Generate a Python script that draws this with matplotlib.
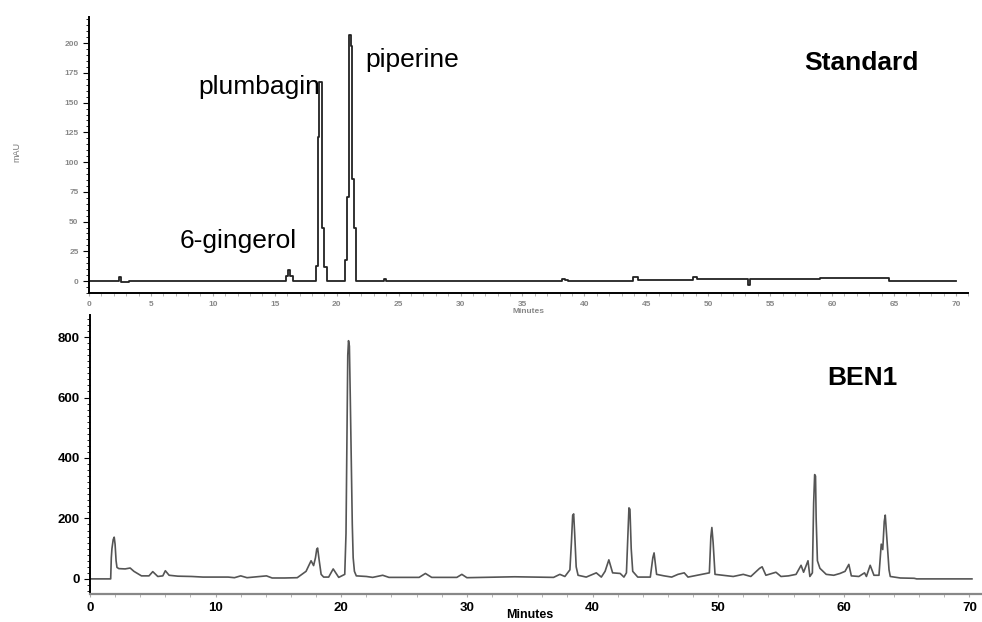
import numpy as np
import matplotlib.pyplot as plt
from matplotlib.ticker import MultipleLocator

plt.rcParams['font.family'] = ['Liberation Sans', 'DejaVu Sans']

# Standard mix chromatogram (minutes, mAU)
std_time = [0.0, 2.3, 2.45, 2.6, 2.9, 3.2, 15.7, 15.9, 16.05, 16.25, 16.45,
            18.32, 18.46, 18.6, 18.83, 18.97, 19.2,
            20.71, 20.87, 21.03, 21.14, 21.22, 21.39, 21.6,
            23.6, 23.8, 24.0, 38.0, 38.2, 38.4, 38.7,
            43.7, 43.9, 44.3, 48.6, 48.8, 49.1, 53.0, 53.2, 53.4,
            59.0, 64.2, 64.6, 70.0]
std_mau = [0.0, 0.0, 3.0, -1.0, -1.0, 0.0, 0.0, 4.0, 9.0, 4.0, 0.0,
           13.0, 121.0, 167.0, 45.0, 12.0, 0.0,
           18.0, 71.0, 207.0, 198.0, 86.0, 45.0, 0.0,
           0.0, 1.5, 0.0, 0.0, 1.5, 0.5, 0.0,
           0.0, 3.0, 1.0, 1.0, 3.0, 1.5, 1.5, -3.5, 1.5,
           2.5, 2.5, 0.0, 0.0]

# BEN1 sample chromatogram (minutes, mAU)
ben_time = [0.0, 1.65, 1.7, 1.75, 1.85, 1.93, 2.0, 2.08, 2.15, 2.3, 2.8, 3.2, 3.5, 4.1,
            4.7, 5.0, 5.4, 5.8, 6.0, 6.3, 7.0, 8.1, 9.0, 11.0, 11.5, 12.0, 12.5,
            14.05, 14.5, 15.5, 16.5, 17.2, 17.6, 17.8, 17.95, 18.05, 18.12, 18.25, 18.4, 18.6,
            19.0, 19.36, 19.8, 20.28, 20.38, 20.45, 20.52, 20.58, 20.65, 20.72, 20.8,
            20.88, 20.95, 21.05, 21.2,
            22.0, 22.5, 23.3, 23.8, 26.2, 26.7, 27.2, 29.2, 29.6, 30.0,
            33.8, 36.9, 37.4, 37.8, 38.2, 38.32, 38.42, 38.5, 38.58, 38.7, 38.85, 39.5,
            40.3, 40.7, 41.0, 41.3, 41.6, 42.2, 42.5, 42.7, 42.8, 42.9, 42.98, 43.08, 43.2, 43.6,
            44.6, 44.8, 44.9, 45.1, 45.7, 46.3, 46.8, 47.3, 47.6, 49.3, 49.42, 49.5, 49.6, 49.75,
            51.2, 52.0, 52.6, 53.3, 53.5, 53.8, 54.6, 55.0, 55.6,
            56.2, 56.6, 56.8, 57.15, 57.3, 57.5, 57.6, 57.68, 57.75, 57.8, 57.9, 58.1,
            58.6, 59.2, 59.7, 60.1, 60.4, 60.6, 61.2, 61.65, 61.8, 62.1, 62.4,
            62.8, 62.98, 63.1, 63.22, 63.3, 63.4, 63.5, 63.6, 63.7, 64.5, 65.6, 65.8, 70.2]
ben_mau = [0.0, 0.0, 70.0, 100.0, 130.0, 138.0, 115.0, 60.0, 38.0, 34.0, 33.0, 36.0, 25.0, 10.0,
           10.0, 24.0, 8.0, 10.0, 27.0, 12.0, 9.0, 8.0, 6.0, 6.0, 4.0, 10.0, 4.0,
           10.0, 3.0, 3.0, 4.0, 25.0, 60.0, 44.0, 70.0, 98.0, 102.0, 60.0, 15.0, 6.0,
           6.0, 33.0, 5.0, 15.0, 150.0, 450.0, 740.0, 788.0, 770.0, 600.0, 380.0,
           180.0, 70.0, 25.0, 10.0,
           8.0, 5.0, 12.0, 5.0, 5.0, 18.0, 5.0, 5.0, 15.0, 4.0,
           7.0, 5.0, 15.0, 8.0, 30.0, 120.0, 210.0, 215.0, 150.0, 40.0, 12.0, 6.0,
           20.0, 6.0, 25.0, 63.0, 20.0, 18.0, 6.0, 20.0, 130.0, 235.0, 230.0, 100.0, 25.0, 6.0,
           6.0, 70.0, 86.0, 15.0, 10.0, 6.0, 15.0, 20.0, 6.0, 20.0, 140.0, 170.0, 120.0, 15.0,
           8.0, 15.0, 8.0, 35.0, 40.0, 12.0, 22.0, 8.0, 10.0,
           15.0, 45.0, 22.0, 60.0, 8.0, 20.0, 250.0, 345.0, 340.0, 200.0, 60.0, 35.0,
           15.0, 12.0, 18.0, 25.0, 48.0, 10.0, 8.0, 20.0, 8.0, 45.0, 12.0,
           12.0, 115.0, 97.0, 190.0, 211.0, 150.0, 85.0, 30.0, 8.0, 3.0, 2.0, 0.0, 0.0]

fig = plt.figure(figsize=(9.82, 6.22), dpi=100)

# ---- top panel: standard ----
ax1 = fig.add_axes([0.0906, 0.529, 0.8955, 0.4437])
ax1.plot(std_time, std_mau, color='#222222', lw=1.3, drawstyle='steps-post')
ax1.set_xlim(0, 71)
ax1.set_ylim(-10, 222)
ax1.spines['top'].set_visible(False)
ax1.spines['right'].set_visible(False)
ax1.spines['left'].set_linewidth(1.4)
ax1.spines['bottom'].set_linewidth(1.4)
ax1.xaxis.set_major_locator(MultipleLocator(5))
ax1.xaxis.set_minor_locator(MultipleLocator(1))
ax1.yaxis.set_minor_locator(MultipleLocator(5))
ax1.set_yticks(range(0, 201, 25))
ax1.tick_params(axis='both', which='major', labelsize=6, labelcolor='#888888', length=4)
ax1.tick_params(axis='x', which='both', color='#aaaaaa', length=2)
ax1.tick_params(axis='y', which='minor', length=2.5)
for lab in ax1.get_xticklabels() + ax1.get_yticklabels():
    lab.set_fontweight('bold')
ax1.set_xlabel('Minutes', fontsize=6, color='#888888', fontweight='bold', labelpad=0)
fig.text(17 / 982, 1 - 152 / 622, 'mAU', fontsize=6.5, color='#777777',
         rotation=90, ha='center', va='center')

ax1.text(12.05, 34, '6-gingerol', fontsize=19, ha='center', va='center')
ax1.text(18.64, 163, 'plumbagin', fontsize=19, ha='right', va='center')
ax1.text(26.1, 186, 'piperine', fontsize=19, ha='center', va='center')
ax1.text(62.35, 183, 'Standard', fontsize=19, fontweight='bold', ha='center', va='center')

# ---- bottom panel: BEN1 ----
ax2 = fig.add_axes([0.0916, 0.045, 0.9084, 0.4486])
ax2.plot(ben_time, ben_mau, color='#555555', lw=1.2)
ax2.set_xlim(0, 71)
ax2.set_ylim(-50, 873)
ax2.spines['top'].set_visible(False)
ax2.spines['right'].set_visible(False)
ax2.spines['left'].set_linewidth(1.4)
ax2.spines['bottom'].set_linewidth(1.6)
ax2.spines['bottom'].set_color('#888888')
ax2.xaxis.set_major_locator(MultipleLocator(10))
ax2.xaxis.set_minor_locator(MultipleLocator(2))
ax2.yaxis.set_minor_locator(MultipleLocator(20))
ax2.set_yticks(range(0, 801, 200))
ax2.tick_params(axis='both', which='major', labelsize=9.5, length=4)
ax2.tick_params(axis='x', which='both', color='#aaaaaa', length=2)
ax2.tick_params(axis='y', which='minor', length=2.5)
for lab in ax2.get_xticklabels() + ax2.get_yticklabels():
    lab.set_fontweight('bold')
fig.text(530 / 982, 1.5 / 622, 'Minutes', fontsize=9, fontweight='bold',
         ha='center', va='bottom')

ax2.text(61.5, 664, 'BEN1', fontsize=19, fontweight='bold', ha='center', va='center')

fig.savefig('out.png', dpi=100)
